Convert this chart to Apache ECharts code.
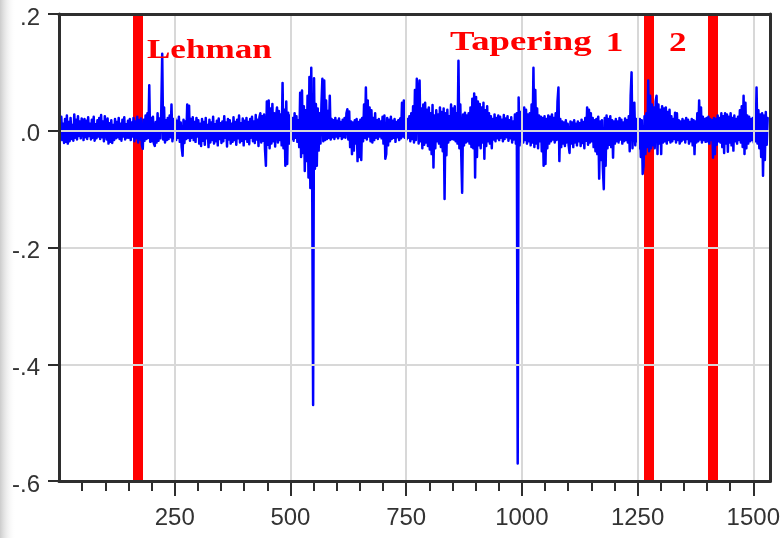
<!DOCTYPE html>
<html>
<head>
<meta charset="utf-8">
<script src="https://cdn.jsdelivr.net/npm/echarts@6/dist/echarts.min.js"></script>
<style>
  html, body { margin: 0; padding: 0; background: #ffffff; }
  #chart { width: 783px; height: 538px; }
</style>
</head>
<body>
<div id="chart"></div>
<script>
// Daily return series, sampled every second observation (obs 1, 3, 5, ...)
const obsStart = 1;
const obsStep = 2;

// obs 1 - 249
const ret1 = [
  .018,-.010,.024,-.016,.012,-.021,.020,-.019,.026,-.022,.015,-.018,.022,-.014,.010,-.017,.028,-.012,.019,-.015,.025,-.009,.016,-.013,.021,
  .014,-.016,.020,-.011,.017,-.014,.023,-.009,.012,-.015,.019,-.012,.024,-.017,.011,-.013,.018,-.010,.022,-.014,.027,-.011,.016,-.018,.025,
  .026,-.015,.021,-.022,.013,-.019,.018,-.021,.010,-.016,.020,-.013,.015,-.011,.022,-.014,.012,-.017,.019,-.010,.023,-.015,.011,-.012,.017,
  -.012,.020,-.016,.014,-.010,.022,-.018,.016,-.013,.024,-.020,.018,-.015,.021,-.024,-.031,.019,-.017,.026,-.014,.030,-.012,.078,-.019,.022,
  -.018,.024,-.022,-.026,.015,-.020,.030,-.017,.021,-.013,.036,.132,-.015,.040,-.020,.018,-.016,.022,-.014,.026,-.011,.045,-.018,.020,-.013
];
// obs 251 - 499
const ret2 = [
  .021,-.016,.017,-.012,.024,-.019,.014,-.028,-.043,.019,-.021,.016,-.014,.045,-.012,.043,-.017,.020,-.012,.023,-.016,.015,-.019,.022,-.010,
  .018,-.022,.012,-.026,.020,-.017,.015,-.024,.022,-.013,.010,-.028,.019,-.020,.014,-.016,.024,-.022,.011,-.018,.017,-.025,.021,-.014,.013,
  -.021,.016,-.018,.025,-.012,.014,-.027,.020,-.015,.018,-.022,.012,-.019,.023,-.016,.015,-.024,.019,-.013,.026,-.020,.013,-.017,.021,-.025,
  .017,-.014,.022,-.019,.015,-.023,.020,-.012,.024,-.018,.016,-.021,.027,-.015,.019,-.026,.023,.030,-.020,.025,-.017,.028,-.031,-.060,.050,
  -.024,.052,-.030,.038,-.022,.046,-.018,.030,-.027,.024,.040,-.020,.034,-.016,.028,-.025,.082,-.030,.036,-.060,.050,-.057,.031,-.022,.026
];
// obs 501 - 749
const ret3 = [
  .028,-.014,.022,-.017,.030,-.012,.025,-.019,.018,-.028,.065,-.045,.069,-.038,.042,-.069,.035,-.052,.060,-.080,.092,-.098,.108,-.085,-.470,
  .090,-.065,.046,-.060,.038,-.034,.030,-.022,.045,.089,-.018,.086,-.016,.052,-.014,.034,-.012,.060,-.015,.020,-.011,.018,-.014,.022,-.010,
  .017,-.013,.021,-.009,.015,-.014,.019,-.011,.022,-.012,.030,.037,-.015,.033,-.028,.016,-.040,.014,-.034,.018,-.022,.020,-.052,.015,-.045,
  .019,-.050,.022,-.018,.045,-.012,.074,-.015,.052,-.010,.040,-.018,.035,-.020,.022,-.016,.030,-.012,.018,-.014,.020,-.010,.016,-.013,.024,
  -.022,.026,-.048,-.040,.022,-.025,.019,-.018,.024,-.014,.017,-.012,.020,-.019,.015,-.011,.018,-.016,.021,-.013,.048,-.010,.052,-.012,.016
];
// obs 751 - 999
const ret4 = [
  -.015,.020,-.012,.025,-.018,.030,-.014,.042,-.020,.070,-.016,.089,.060,-.022,.086,-.018,.038,-.030,.045,-.024,.048,-.020,.036,-.026,.040,
  -.032,.030,-.040,.044,-.063,.026,-.030,.035,-.018,.028,-.022,.040,-.028,.032,-.035,.038,-.117,.030,-.042,.036,-.020,.025,-.016,.045,-.014,
  .038,-.015,.042,-.018,.030,-.022,.120,-.030,.045,-.040,-.106,.028,-.025,.031,-.020,.026,-.018,.030,-.022,.040,-.028,.055,-.030,.064,-.080,
  .058,-.045,.050,-.025,.046,-.030,.040,-.020,.048,-.048,.035,-.026,.042,-.018,.030,-.022,.025,-.030,.020,-.015,.028,-.018,.022,-.013,.026,
  -.016,.024,-.012,.019,-.018,.027,-.014,.021,-.011,.025,-.017,.018,-.013,.023,-.020,.016,-.015,.028,-.022,.030,-.570,.057,-.025,.032,-.018
];
// obs 1001 - 1249
const ret5 = [
  .022,-.020,.040,-.016,.036,-.022,.028,-.018,.030,-.025,.045,-.020,.108,-.028,.070,-.022,.038,-.030,.026,-.018,.024,-.035,.022,-.060,.025,
  -.057,.020,-.030,.026,-.022,.024,-.018,.028,-.015,.022,-.020,.030,-.016,.050,.074,-.052,.020,-.028,.016,-.022,.014,-.026,.018,-.020,.012,
  -.024,-.038,.016,-.022,.014,-.028,.018,-.020,.012,-.025,.016,-.018,.013,-.026,.019,-.021,.015,-.030,.022,-.017,.040,-.024,.036,-.020,.030,
  -.018,.022,-.028,.018,-.035,.020,-.040,.024,-.082,.016,-.050,.018,-.065,-.100,.022,-.060,.026,-.030,.020,-.024,.025,-.028,.018,-.046,.016,
  -.022,.020,-.018,.016,-.020,.022,-.015,.019,-.022,.014,-.018,.021,-.016,.018,-.020,.025,-.035,.060,.100,-.030,.030,.048,-.025,.020,-.018
];
// obs 1251 - 1499
const ret6 = [
  .016,-.030,.020,-.045,.018,-.074,-.060,.025,-.040,.030,-.028,.086,-.035,.060,-.030,.045,-.025,.040,-.030,.050,.060,-.040,.045,-.022,.036,
  -.040,.042,-.020,.038,-.018,.040,-.022,.032,-.016,.036,-.020,.025,-.018,.020,-.014,.031,-.020,.030,-.016,.018,-.022,.016,-.018,.020,-.015,
  .017,-.020,.022,-.014,.019,-.022,.015,-.018,.020,-.025,.018,-.040,.016,-.020,.030,-.018,.052,-.015,.040,-.020,.024,-.016,.020,-.019,.022,
  -.018,.024,-.022,.020,-.016,.018,-.046,.022,-.040,.020,-.024,.026,-.018,.022,-.020,.030,-.028,.025,-.038,.030,-.022,.028,-.036,.024,-.020,
  .030,-.025,.022,-.034,.026,-.018,.020,-.022,.024,-.016,.035,-.020,.042,-.028,.060,-.040,.048,-.030,.026,-.022,.024,-.018,.020,-.016,.022
];
// obs 1501 - 1531
const ret7 = [
  -.020,.030,-.018,.074,-.022,.035,-.030,.028,-.045,.030,-.077,.026,-.050,.032,-.024,.022
];

// Event dates (observation numbers)
const eventObs = [171, 1274, 1412];

// Axis ticks
const xMajorTicks = [250, 500, 750, 1000, 1250, 1500];
const xMinorStep = 50;
const xMax = 1537;
const yMin = -0.6, yMax = 0.2, yStep = 0.2;

const returns = [].concat(ret1, ret2, ret3, ret4, ret5, ret6, ret7);
const seriesData = returns.map((v, i) => [obsStart + obsStep * i, v]);
const xMinorTicks = [];
for (let t = xMinorStep; t <= 1500; t += xMinorStep) xMinorTicks.push(t);

const AXIS_COLOR = '#2e2e2e';
const GRID_COLOR = '#d8d8d8';
const LABEL_FONT = 'Liberation Sans';

const frameLine = { show: true, onZero: false, lineStyle: { color: AXIS_COLOR, width: 3 } };
const hidden = { show: false };

const chart = echarts.init(document.getElementById('chart'), null, { renderer: 'canvas' });

chart.setOption({
  animation: false,
  backgroundColor: '#ffffff',
  grid: { left: 59, right: 11, top: 14, bottom: 57 },
  xAxis: [
    {
      type: 'value', min: 0, max: xMax, interval: 250, position: 'bottom', z: 3,
      axisLine: { show: false, onZero: false },
      axisTick: { show: true, customValues: xMajorTicks, length: 15, lineStyle: { color: AXIS_COLOR, width: 2 } },
      axisLabel: {
        customValues: xMajorTicks, margin: 25, fontFamily: LABEL_FONT, fontSize: 24, color: '#333333',
        formatter: v => String(Math.round(v))
      },
      splitLine: { show: true, lineStyle: { color: GRID_COLOR, width: 2 } }
    },
    {
      type: 'value', min: 0, max: xMax, position: 'bottom', z: 4,
      axisLine: frameLine,
      axisTick: { show: true, customValues: xMinorTicks, length: 10, lineStyle: { color: AXIS_COLOR, width: 2 } },
      axisLabel: hidden, splitLine: hidden
    },
    {
      type: 'value', min: 0, max: xMax, position: 'top', z: 4,
      axisLine: frameLine, axisTick: hidden, axisLabel: hidden, splitLine: hidden
    }
  ],
  yAxis: [
    {
      type: 'value', min: yMin, max: yMax, interval: yStep, position: 'left', z: 3,
      axisLine: { show: false, onZero: false },
      axisTick: { show: true, length: 11, lineStyle: { color: AXIS_COLOR, width: 2 } },
      axisLabel: {
        margin: 19, fontFamily: LABEL_FONT, fontSize: 24, color: '#333333',
        verticalAlign: 'top', lineHeight: 8,
        formatter: v => v.toFixed(1).replace('0.', '.')
      },
      splitLine: { show: true, lineStyle: { color: GRID_COLOR, width: 2 } }
    },
    {
      type: 'value', min: yMin, max: yMax, position: 'left', z: 4,
      axisLine: frameLine, axisTick: hidden, axisLabel: hidden, splitLine: hidden
    },
    {
      type: 'value', min: yMin, max: yMax, position: 'right', z: 4,
      axisLine: frameLine, axisTick: hidden, axisLabel: hidden, splitLine: hidden
    }
  ],
  series: [
    {
      name: 'returns',
      type: 'line',
      xAxisIndex: 0,
      yAxisIndex: 0,
      data: seriesData,
      symbol: 'none',
      showSymbol: false,
      silent: true,
      z: 2,
      lineStyle: { color: '#0000ff', width: 2.5, cap: 'round', join: 'round' },
      markLine: {
        silent: true,
        z: 1,
        symbol: ['none', 'none'],
        label: { show: false },
        lineStyle: { color: '#ff0000', width: 10, type: 'solid' },
        data: eventObs.map(v => ({ xAxis: v }))
      }
    }
  ]
});

// Event annotations, anchored in data coordinates
const annotations = [
  { text: 'Lehman',   x: 190,  y: 0.137,  align: 'left',   stretch: 1.3 },
  { text: 'Tapering', x: 845,  y: 0.151,  align: 'left',   stretch: 1.36 },
  { text: '1',        x: 1200, y: 0.148,  align: 'center', stretch: 1.3 },
  { text: '2',        x: 1337, y: 0.1485, align: 'center', stretch: 1.3 }
];

const graphics = annotations.map(a => {
  const p = chart.convertToPixel({ xAxisIndex: 0, yAxisIndex: 0 }, [a.x, a.y]);
  return {
    type: 'text',
    x: p[0], y: p[1],
    scaleX: a.stretch,
    z: 10,
    silent: true,
    style: {
      text: a.text,
      font: 'bold 27px "Liberation Serif"',
      fill: '#ff0000',
      align: a.align,
      verticalAlign: 'middle'
    }
  };
});

// soft shade along the left edge of the canvas
graphics.push({
  type: 'rect',
  z: -1,
  silent: true,
  shape: { x: 0, y: 0, width: 16, height: 538 },
  style: {
    fill: new echarts.graphic.LinearGradient(0, 0, 1, 0, [
      { offset: 0, color: 'rgba(170,170,170,0.6)' },
      { offset: 1, color: 'rgba(255,255,255,0)' }
    ])
  }
});

chart.setOption({ graphic: graphics });
</script>
</body>
</html>
